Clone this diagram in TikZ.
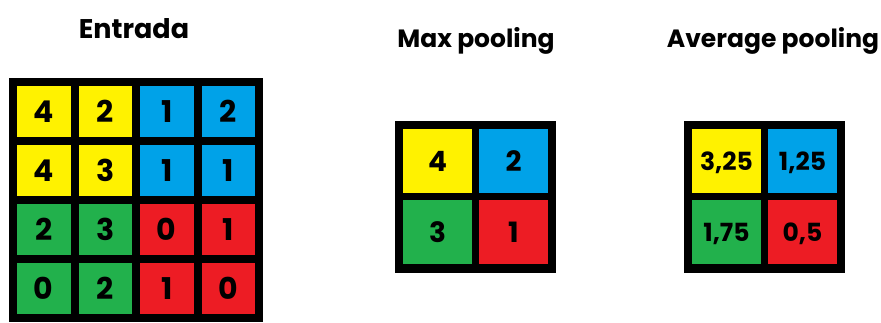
\documentclass[tikz,border=0pt]{standalone}
\usepackage{fontspec}
\setmainfont{Poppins}
\usetikzlibrary{positioning}

\definecolor{pyellow}{RGB}{255,242,0}
\definecolor{pblue}{RGB}{0,162,232}
\definecolor{pgreen}{RGB}{34,177,76}
\definecolor{pred}{RGB}{237,28,36}

\tikzset{
  title/.style={anchor=base, inner sep=0pt, font=\bfseries\fontsize{25}{25}\selectfont},
  incell/.style={fill=#1, inner sep=0pt, minimum width=53.5pt, minimum height=51pt,
    text depth=0pt, font=\bfseries\fontsize{30}{30}\selectfont},
  poolcell/.style={fill=#1, inner sep=0pt, minimum width=69pt, minimum height=64pt,
    text depth=0pt, font=\bfseries\fontsize{28}{28}\selectfont},
  avgcell/.style={poolcell=#1, font=\bfseries\fontsize{25}{25}\selectfont}
}

\begin{document}
\begin{tikzpicture}[x=1pt,y=-1pt]
\useasboundingbox[fill=white] (0,0) rectangle (881,322);

% entrada 4x4
\node[title, font=\bfseries\fontsize{27}{27}\selectfont] (tin) at (134,38) {Entrada};
\fill[black] (9,78) rectangle (263,322);
\foreach \n/\col/\i/\j in {4/pyellow/1/1, 2/pyellow/1/2, 1/pblue/1/3, 2/pblue/1/4,
                          4/pyellow/2/1, 3/pyellow/2/2, 1/pblue/2/3, 1/pblue/2/4,
                          2/pgreen/3/1, 3/pgreen/3/2, 0/pred/3/3, 1/pred/3/4,
                          0/pgreen/4/1, 2/pgreen/4/2, 1/pred/4/3, 0/pred/4/4}
  \node[incell=\col] (in\i\j) at ({43.75+61.5*(\j-1)},{111.5+59*(\i-1)}) {\n};

% max pooling 2x2
\node[title] (tmax) at (476,47) {Max pooling};
\fill[black] (395,121) rectangle (556,273);
\foreach \n/\col/\i/\j in {4/pyellow/1/1, 2/pblue/1/2, 3/pgreen/2/1, 1/pred/2/2}
  \node[poolcell=\col] (mx\i\j) at ({437.5+76*(\j-1)},{161+71*(\i-1)}) {\n};

% average pooling 2x2
\node[title] (tavg) at (773,47) {Average pooling};
\fill[black] (684,121) rectangle (845,273);
\foreach \n/\col/\i/\j in {3{,}25/pyellow/1/1, 1{,}25/pblue/1/2, 1{,}75/pgreen/2/1, 0{,}5/pred/2/2}
  \node[avgcell=\col] (av\i\j) at ({726.5+76*(\j-1)},{161+71*(\i-1)}) {\n};
\end{tikzpicture}
\end{document}
